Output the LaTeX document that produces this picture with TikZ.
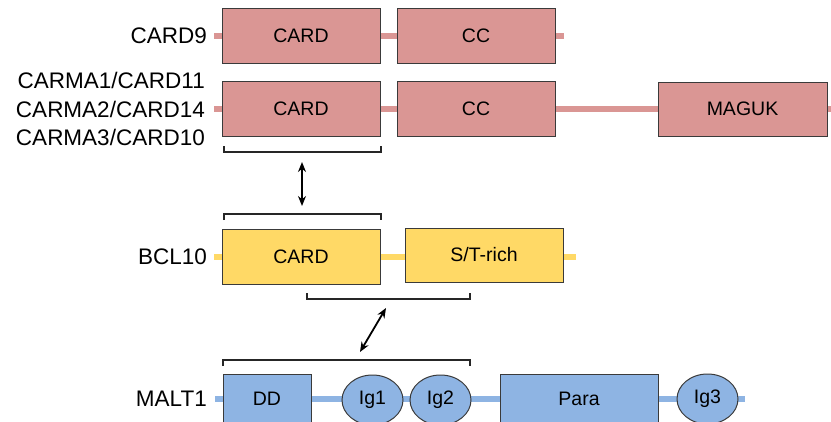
\documentclass[tikz,border=0pt]{standalone}
\usepackage{fontspec}
\setmainfont{Liberation Sans}
\usetikzlibrary{shapes.geometric,arrows.meta}
\pgfdeclarelayer{background}
\pgfsetlayers{background,main}
\definecolor{pinkf}{HTML}{DA9694}
\definecolor{yellf}{HTML}{FFD966}
\definecolor{bluef}{HTML}{8EB4E3}
\definecolor{edgec}{HTML}{3A3A3A}
\tikzset{
  dom/.style={draw=edgec, line width=1pt, minimum height=55pt, inner sep=0pt, font=\fontsize{19.5}{22}\selectfont},
  pinkdom/.style={dom, fill=pinkf},
  yelldom/.style={dom, fill=yellf},
  bluedom/.style={dom, fill=bluef},
  igdom/.style={ellipse, draw=edgec, line width=1pt, fill=bluef, minimum width=61pt, minimum height=50pt, inner sep=0pt, font=\fontsize{19.5}{22}\selectfont},
  lab/.style={anchor=east, inner sep=0pt, font=\fontsize{22.5}{28.5}\selectfont},
  bb/.style={line width=6pt},
  brk/.style={draw=black!85, line width=1.8pt},
  dbl/.style={black, line width=1.8pt, {Stealth[length=10pt,width=8pt]}-{Stealth[length=10pt,width=8pt]}}
}
\begin{document}
\begin{tikzpicture}[x=1pt,y=-1pt]
\useasboundingbox (0,0) rectangle (831,421);
\clip (0,0) rectangle (831,421);
% CARD9
\node[lab] (l9) at (207,36) {CARD9};
\node[pinkdom, minimum width=158pt] (c9card) at (301,35.5) {CARD};
\node[pinkdom, minimum width=158pt] (c9cc) at (476,35.5) {CC};
\coordinate (c9s) at (214,36);
\coordinate (c9e) at (564,36);
% CARMA
\node[lab, align=right] (lcarma) at (205,109) {CARMA1/CARD11\\CARMA2/CARD14\\CARMA3/CARD10};
\node[pinkdom, minimum width=158pt] (cmcard) at (301,108.5) {CARD};
\node[pinkdom, minimum width=158pt] (cmcc) at (476,108.5) {CC};
\node[pinkdom, minimum width=169pt, minimum height=54pt] (cmmaguk) at (742.5,109) {MAGUK};
\coordinate (cms) at (214,109);
\coordinate (cme) at (835,109);
% BCL10
\node[lab] (lb) at (207,257) {BCL10};
\node[yelldom, minimum width=158pt] (bcard) at (301,256.5) {CARD};
\node[yelldom, minimum width=158pt, minimum height=54pt] (bst) at (484,255) {S/T-rich};
\coordinate (bs) at (214,257);
\coordinate (be) at (576,257);
% MALT1
\node[lab] (lm) at (207,399) {MALT1};
\node[bluedom, minimum width=88pt, minimum height=50pt] (dd) at (267,399) {DD};
\node[igdom] (ig1) at (372.5,400) {Ig1};
\node[igdom] (ig2) at (440.5,400) {Ig2};
\node[bluedom, minimum width=158pt, minimum height=50pt] (para) at (579,399) {Para};
\node[igdom] (ig3) at (707.5,399) {Ig3};
\coordinate (ms) at (215,399);
\coordinate (me) at (745,399);
\begin{pgfonlayer}{background}
\draw[bb, pinkf] (c9s) -- (c9e);
\draw[bb, pinkf] (cms) -- (cme);
\draw[bb, yellf] (bs) -- (be);
\draw[bb, bluef] (ms) -- (me);
\end{pgfonlayer}
% brackets
\draw[brk] (224,146) -- (224,152) -- (381,152) -- (381,146);
\draw[brk] (224,220) -- (224,214) -- (381,214) -- (381,220);
\draw[brk] (307,293) -- (307,299) -- (470,299) -- (470,293);
\draw[brk] (223,366) -- (223,360) -- (470,360) -- (470,366);
% arrows
\coordinate (a1s) at (302,162);
\coordinate (a1e) at (302,206);
\draw[dbl] (a1s) -- (a1e);
\coordinate (a2s) at (386,308);
\coordinate (a2e) at (360,352);
\draw[dbl] (a2s) -- (a2e);
\end{tikzpicture}
\end{document}
